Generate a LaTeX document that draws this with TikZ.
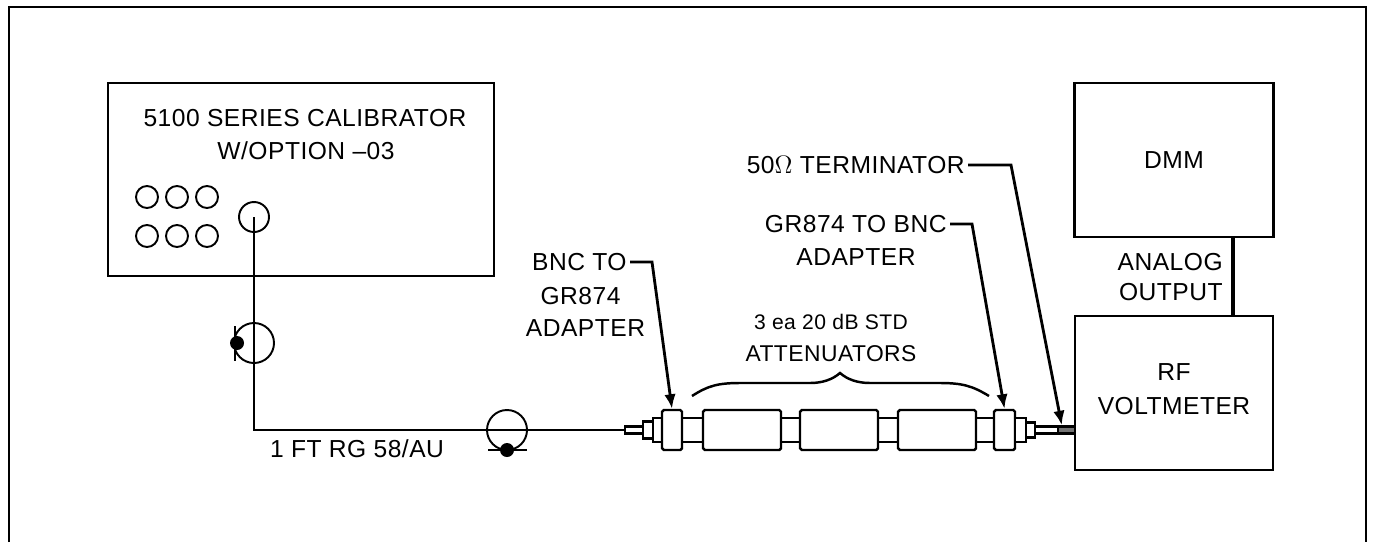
\documentclass[tikz,border=0pt]{standalone}
\usepackage{fontspec}
\setmainfont[LetterSpace=2]{Liberation Sans}
\usetikzlibrary{arrows.meta,positioning}

\begin{document}
\begin{tikzpicture}[
      unit/.style={draw, line width=1.3pt, inner sep=0pt, font=\fontsize{14}{17.5}\selectfont},
      lbl/.style={inner sep=0pt, align=center, font=\fontsize{14}{17.5}\selectfont},
      knob/.style={draw, circle, line width=1.1pt, minimum size=0.44cm, inner sep=0pt},
      loopc/.style={draw, circle, line width=1.1pt, inner sep=0pt},
      blob/.style={circle, fill=black, minimum size=0.28cm, inner sep=0pt},
      part/.style={draw, fill=white, line width=1.4pt, inner sep=0pt, minimum height=0.48cm},
      bigpart/.style={part, rounded corners=1pt, minimum height=0.80cm},
      cable/.style={line width=1.5pt},
      lead/.style={-{Latex[length=2.9mm,width=2.3mm]}, line width=1.6pt}
  ]
    \useasboundingbox (0,0) rectangle (27.46,10.84);
    \draw[line width=0.8pt] (0.18,0) |- (27.32,10.70) -- (27.32,0);

    % calibrator
    \node[unit, minimum width=7.72cm, minimum height=3.86cm] (cal) at (6.02,7.25) {};
    \node[lbl] (calTxt) at (6.10,8.48) {5100 SERIES CALIBRATOR};
    \node[lbl] (calOpt) at (6.12,7.82) {W/OPTION --03};
    \foreach \xx [count=\i] in {2.94,3.54,4.14} {
      \node[knob] (knobA\i) at (\xx,6.90) {};
      \node[knob] (knobB\i) at (\xx,6.12) {};
    }
    \node[loopc, minimum size=0.60cm] (calJack) at (5.08,6.50) {};

    % cable with its two loops
    \coordinate (cnr) at (5.08,2.24);
    \node[loopc, minimum size=0.80cm] (loopA) at (5.08,3.98) {};
    \node[blob] (blobA) at (4.74,3.98) {};
    \node[fill=black, minimum width=0.05cm, minimum height=0.70cm, inner sep=0pt] (barA) at (4.70,3.98) {};
    \node[loopc, minimum size=0.80cm] (loopB) at (10.14,2.24) {};
    \node[blob] (blobB) at (10.14,1.84) {};
    \node[fill=black, minimum width=0.78cm, minimum height=0.05cm, inner sep=0pt] (barB) at (10.14,1.84) {};
    \node[lbl] (cableTxt) at (7.14,1.86) {1 FT RG 58/AU};

    % attenuator chain
    \node[part, minimum width=0.40cm, minimum height=0.14cm] (pinL) at (12.70,2.24) {};
    \node[part, minimum width=0.20cm, minimum height=0.34cm] (nutL) at (12.96,2.24) {};
    \node[part, minimum width=0.18cm] (slvL) at (13.15,2.24) {};
    \node[part, minimum width=0.42cm] (neckA) at (13.85,2.24) {};
    \node[part, minimum width=0.38cm] (neckB) at (15.81,2.24) {};
    \node[part, minimum width=0.40cm] (neckC) at (17.76,2.24) {};
    \node[part, minimum width=0.36cm] (neckD) at (19.70,2.24) {};
    \node[bigpart, minimum width=0.40cm] (adL) at (13.44,2.24) {};
    \node[bigpart, minimum width=0.42cm] (adR) at (20.09,2.24) {};
    \foreach \nm/\xx in {atA/14.84,atB/16.78,atC/18.74} {
      \node[bigpart, minimum width=1.56cm] (\nm) at (\xx,2.24) {};
    }
    \node[part, minimum width=0.22cm] (slvR) at (20.41,2.24) {};
    \node[part, minimum width=0.18cm, minimum height=0.30cm] (nutR) at (20.61,2.24) {};
    \node[part, minimum width=0.46cm, minimum height=0.14cm] (pinR) at (20.93,2.24) {};
    \node[part, fill=black!55, minimum width=0.34cm, minimum height=0.14cm] (term) at (21.33,2.24) {};

    \draw[cable] (calJack.center) -- (cnr) -- (pinL.west);

    % brace
    \draw[line width=1.4pt] (13.84,2.92) .. controls (14.15,3.12) and (14.35,3.18) .. (14.80,3.18) -- (16.20,3.18)
      .. controls (16.45,3.18) and (16.65,3.25) .. (16.80,3.38)
      .. controls (16.95,3.25) and (17.15,3.18) .. (17.40,3.18) -- (18.80,3.18)
      .. controls (19.25,3.18) and (19.45,3.12) .. (19.78,2.92);
    \node[lbl, font=\fontsize{12}{14}\selectfont] (stdTxt) at (16.62,4.40) {3 ea 20 dB STD};
    \node[lbl, font=\fontsize{13}{15}\selectfont] (attTxt) at (16.62,3.76) {ATTENUATORS};

    % meters
    \node[unit, minimum width=3.98cm, minimum height=3.08cm] (dmm) at (23.48,7.64) {DMM};
    \node[unit, minimum width=3.96cm, minimum height=3.08cm] (rfv) at (23.48,2.98) {};
    \node[lbl] (rfTxt) at (23.48,3.40) {RF};
    \node[lbl] (rfTxtB) at (23.48,2.72) {VOLTMETER};
    \draw[line width=1.8pt] (dmm.south -| 24.66,0) -- (rfv.north -| 24.66,0);
    \node[lbl, anchor=east] (anaA) at (24.46,5.60) {ANALOG};
    \node[lbl, anchor=east] (anaB) at (24.46,5.00) {OUTPUT};

    % leaders
    \node[lbl, inner sep=0.06cm, anchor=east] (bncTo) at (12.60,5.60) {BNC TO};
    \node[lbl] (bncGr) at (11.61,4.92) {GR874};
    \node[lbl] (bncAd) at (11.71,4.28) {ADAPTER};
    \draw[lead] (bncTo.east) -- (13.04,5.60) -- (adL.north);

    \node[lbl, inner sep=0.06cm, anchor=east] (grTo) at (19.00,6.36) {GR874 TO BNC};
    \node[lbl] (grAd) at (17.12,5.70) {ADAPTER};
    \draw[lead] (grTo.east) -- (19.44,6.36) -- (adR.north);

    \node[lbl, inner sep=0.06cm, anchor=east] (termTxt) at (19.36,7.54) {50$\Omega$ TERMINATOR};
    \draw[lead] (termTxt.east) -- (20.22,7.54) -- (term.135);
\end{tikzpicture}
\end{document}
